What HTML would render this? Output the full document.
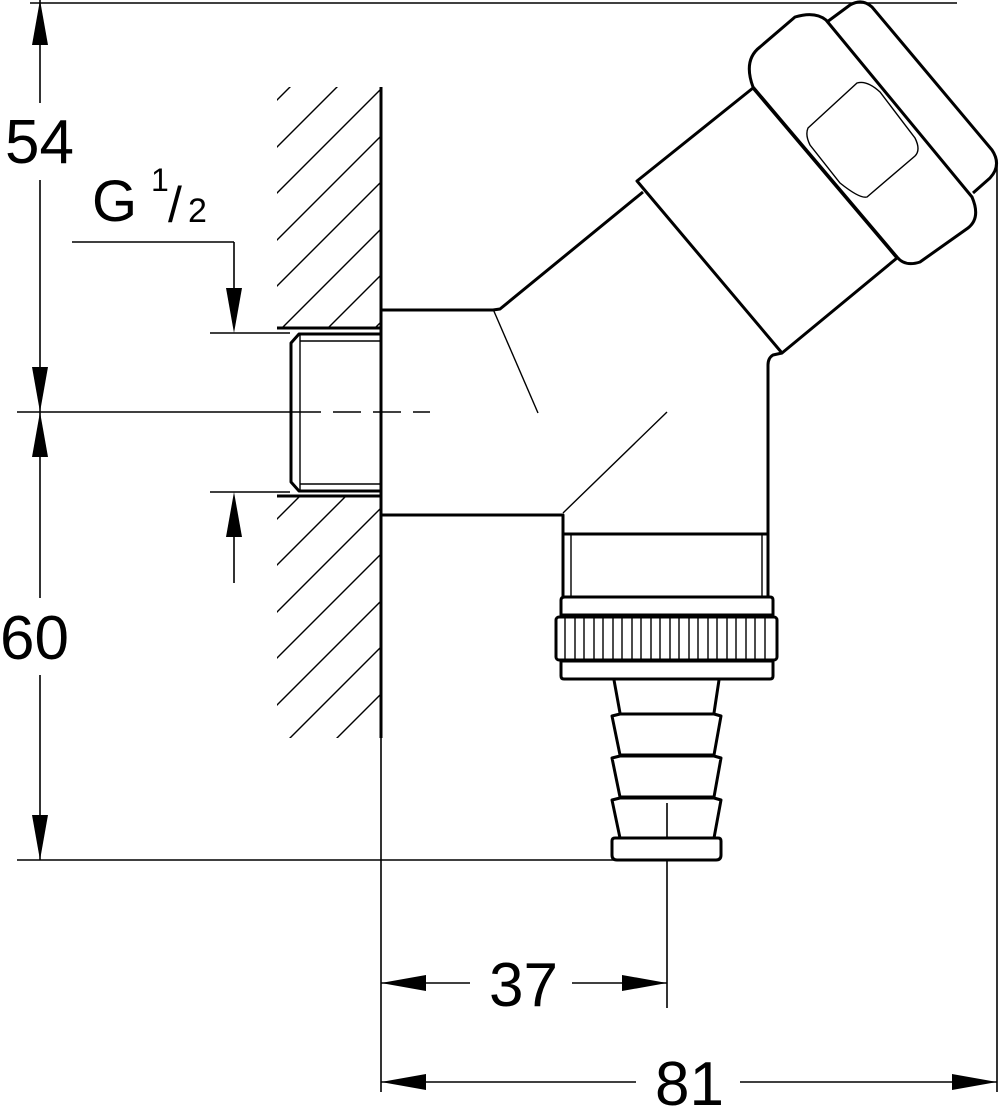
<!DOCTYPE html>
<html><head><meta charset="utf-8"><style>
html,body{margin:0;padding:0;background:#fff;}
svg{display:block;}
text{font-family:"Liberation Sans",Arial,sans-serif;fill:#000;}
</style></head><body>
<svg width="1000" height="1107" viewBox="0 0 1000 1107" xmlns="http://www.w3.org/2000/svg">
<defs>
<clipPath id="h1"><rect x="277" y="87" width="103" height="241"/></clipPath>
<clipPath id="h2"><rect x="277" y="497" width="103" height="241"/></clipPath>
</defs>
<g fill="none" stroke="#000" stroke-linecap="butt">
<g stroke-width="1.6">
<line x1="40" y1="0" x2="40" y2="103"/>
<line x1="40" y1="180" x2="40" y2="598"/>
<line x1="40" y1="675" x2="40" y2="860"/>
<line x1="30" y1="3" x2="957" y2="3"/>
<line x1="17" y1="412" x2="293" y2="412"/>
<line x1="293" y1="412" x2="430" y2="412" stroke-dasharray="28,12"/>
<line x1="17" y1="860" x2="614" y2="860"/>
<line x1="72" y1="242" x2="234" y2="242"/>
<line x1="234" y1="242" x2="234" y2="300"/>
<line x1="210" y1="333" x2="290" y2="333"/>
<line x1="210" y1="492" x2="290" y2="492"/>
<line x1="234" y1="520" x2="234" y2="583"/>
<line x1="381" y1="738" x2="381" y2="1092"/>
<line x1="997" y1="163" x2="997" y2="1092"/>
<line x1="667" y1="860" x2="667" y2="1008"/>
<line x1="667" y1="803" x2="667" y2="838"/>
<line x1="381" y1="983" x2="470" y2="983"/>
<line x1="572" y1="983" x2="667" y2="983"/>
<line x1="381" y1="1082" x2="636" y2="1082"/>
<line x1="740" y1="1082" x2="997" y2="1082"/>
</g>
<g stroke-width="1.4">
<g clip-path="url(#h1)">
<line x1="0" y1="377" x2="377" y2="0"/><line x1="0" y1="424" x2="424" y2="0"/><line x1="0" y1="470" x2="470" y2="0"/><line x1="0" y1="517" x2="517" y2="0"/><line x1="0" y1="563" x2="563" y2="0"/><line x1="0" y1="610" x2="610" y2="0"/><line x1="0" y1="656" x2="656" y2="0"/><line x1="0" y1="703" x2="703" y2="0"/>
</g>
<g clip-path="url(#h2)">
<line x1="0" y1="749" x2="749" y2="0"/><line x1="0" y1="796" x2="796" y2="0"/><line x1="0" y1="842" x2="842" y2="0"/><line x1="0" y1="889" x2="889" y2="0"/><line x1="0" y1="935" x2="935" y2="0"/><line x1="0" y1="982" x2="982" y2="0"/><line x1="0" y1="1028" x2="1028" y2="0"/><line x1="0" y1="1075" x2="1075" y2="0"/><line x1="0" y1="1121" x2="1121" y2="0"/>
</g>
</g>
<g stroke-width="3" stroke-linejoin="round">
<line x1="381" y1="87" x2="381" y2="738"/>
<line x1="277" y1="328" x2="381" y2="328"/>
<line x1="277" y1="496" x2="381" y2="496"/>
<path d="M381,334 L299,334 L291,343 L291,482 L299,491 L381,491"/>
<path d="M381,310 L493,310 L500,309 L643,192"/>
<polygon points="637,181 753,88 897,258 782,353" fill="#fff"/>
<path d="M753,87 L897,257 Q905,267 920,262 L968,228 Q981,218 972,197 L826,20 Q815,11 795,17 L760,47 Q743,60 753,87 Z" fill="#fff"/>
<path d="M827,22 L850,5 Q862,-2 872,7 L992,150 Q1002,165 990,178 L973,193"/>
<path d="M782,353 L773,355 Q768,358 768,365 L768,597"/>
<path d="M381,515 L563,515 L563,597"/>
<line x1="563" y1="534" x2="768" y2="534"/>
<path d="M565,597 L770,597 Q773,597 773,600 L773,615 L561,615 L561,600 Q561,597 565,597 Z"/>
<rect x="556" y="617" width="221" height="43" rx="3"/>
<path d="M561,661 L773,661 L773,676 Q773,679 770,679 L564,679 Q561,679 561,676 Z"/>
<path d="M614,680 L620,713 M719,680 L714,713"/>
<path d="M620,714 L714,714 L721,716 L714,755 L620,755 L612,716 Z"/>
<path d="M620,756 L714,756 L721,758 L714,797 L620,797 L612,758 Z"/>
<path d="M620,798 L714,798 L721,800 L714,838 L620,838 L612,800 Z"/>
<path d="M615,838 L718,838 Q721,838 721,841 L721,855 Q721,860 716,860 L617,860 Q612,860 612,855 L612,841 Q612,838 615,838 Z"/>
</g>
<g stroke-width="1.4">
<path d="M300,334 L300,491 M300,341 L381,341 M300,484 L381,484"/>
<line x1="493" y1="309" x2="538" y2="413"/>
<line x1="667" y1="412" x2="563" y2="513"/>
<line x1="571" y1="534" x2="571" y2="597"/>
<line x1="762" y1="534" x2="762" y2="597"/>
<path d="M808,128 L857,83 Q867,80 880,92 L915,138 Q921,150 915,156 L867,197 Q860,199 840,183 L810,145 Q805,135 808,128 Z"/>
<g>
<line x1="565" y1="617" x2="565" y2="660"/><line x1="575" y1="617" x2="575" y2="660"/><line x1="584" y1="617" x2="584" y2="660"/><line x1="594" y1="617" x2="594" y2="660"/><line x1="603" y1="617" x2="603" y2="660"/><line x1="613" y1="617" x2="613" y2="660"/><line x1="622" y1="617" x2="622" y2="660"/><line x1="632" y1="617" x2="632" y2="660"/><line x1="641" y1="617" x2="641" y2="660"/><line x1="651" y1="617" x2="651" y2="660"/><line x1="660" y1="617" x2="660" y2="660"/><line x1="670" y1="617" x2="670" y2="660"/><line x1="679" y1="617" x2="679" y2="660"/><line x1="689" y1="617" x2="689" y2="660"/><line x1="698" y1="617" x2="698" y2="660"/><line x1="708" y1="617" x2="708" y2="660"/><line x1="717" y1="617" x2="717" y2="660"/><line x1="727" y1="617" x2="727" y2="660"/><line x1="736" y1="617" x2="736" y2="660"/><line x1="746" y1="617" x2="746" y2="660"/><line x1="755" y1="617" x2="755" y2="660"/><line x1="765" y1="617" x2="765" y2="660"/>
</g>
</g>
</g>
<g fill="#000">
<polygon points="40,0 32,45 48,45"/>
<polygon points="40,412 32,367 48,367"/>
<polygon points="40,412 32,457 48,457"/>
<polygon points="40,860 32,815 48,815"/>
<polygon points="234,333 226,288 242,288"/>
<polygon points="234,492 226,537 242,537"/>
<polygon points="381,983 426,975 426,991"/>
<polygon points="667,983 622,975 622,991"/>
<polygon points="381,1082 426,1074 426,1090"/>
<polygon points="997,1082 952,1074 952,1090"/>
</g>
<text x="5" y="163" font-size="62">54</text>
<text x="0" y="659" font-size="62">60</text>
<text x="489" y="1006" font-size="62">37</text>
<text x="655" y="1105" font-size="62">81</text>
<text x="92" y="221" font-size="58">G</text>
<text x="151" y="191" font-size="32">1</text>
<text x="168" y="222" font-size="50">/</text>
<text x="188" y="222" font-size="34">2</text>
</svg>
</body></html>
